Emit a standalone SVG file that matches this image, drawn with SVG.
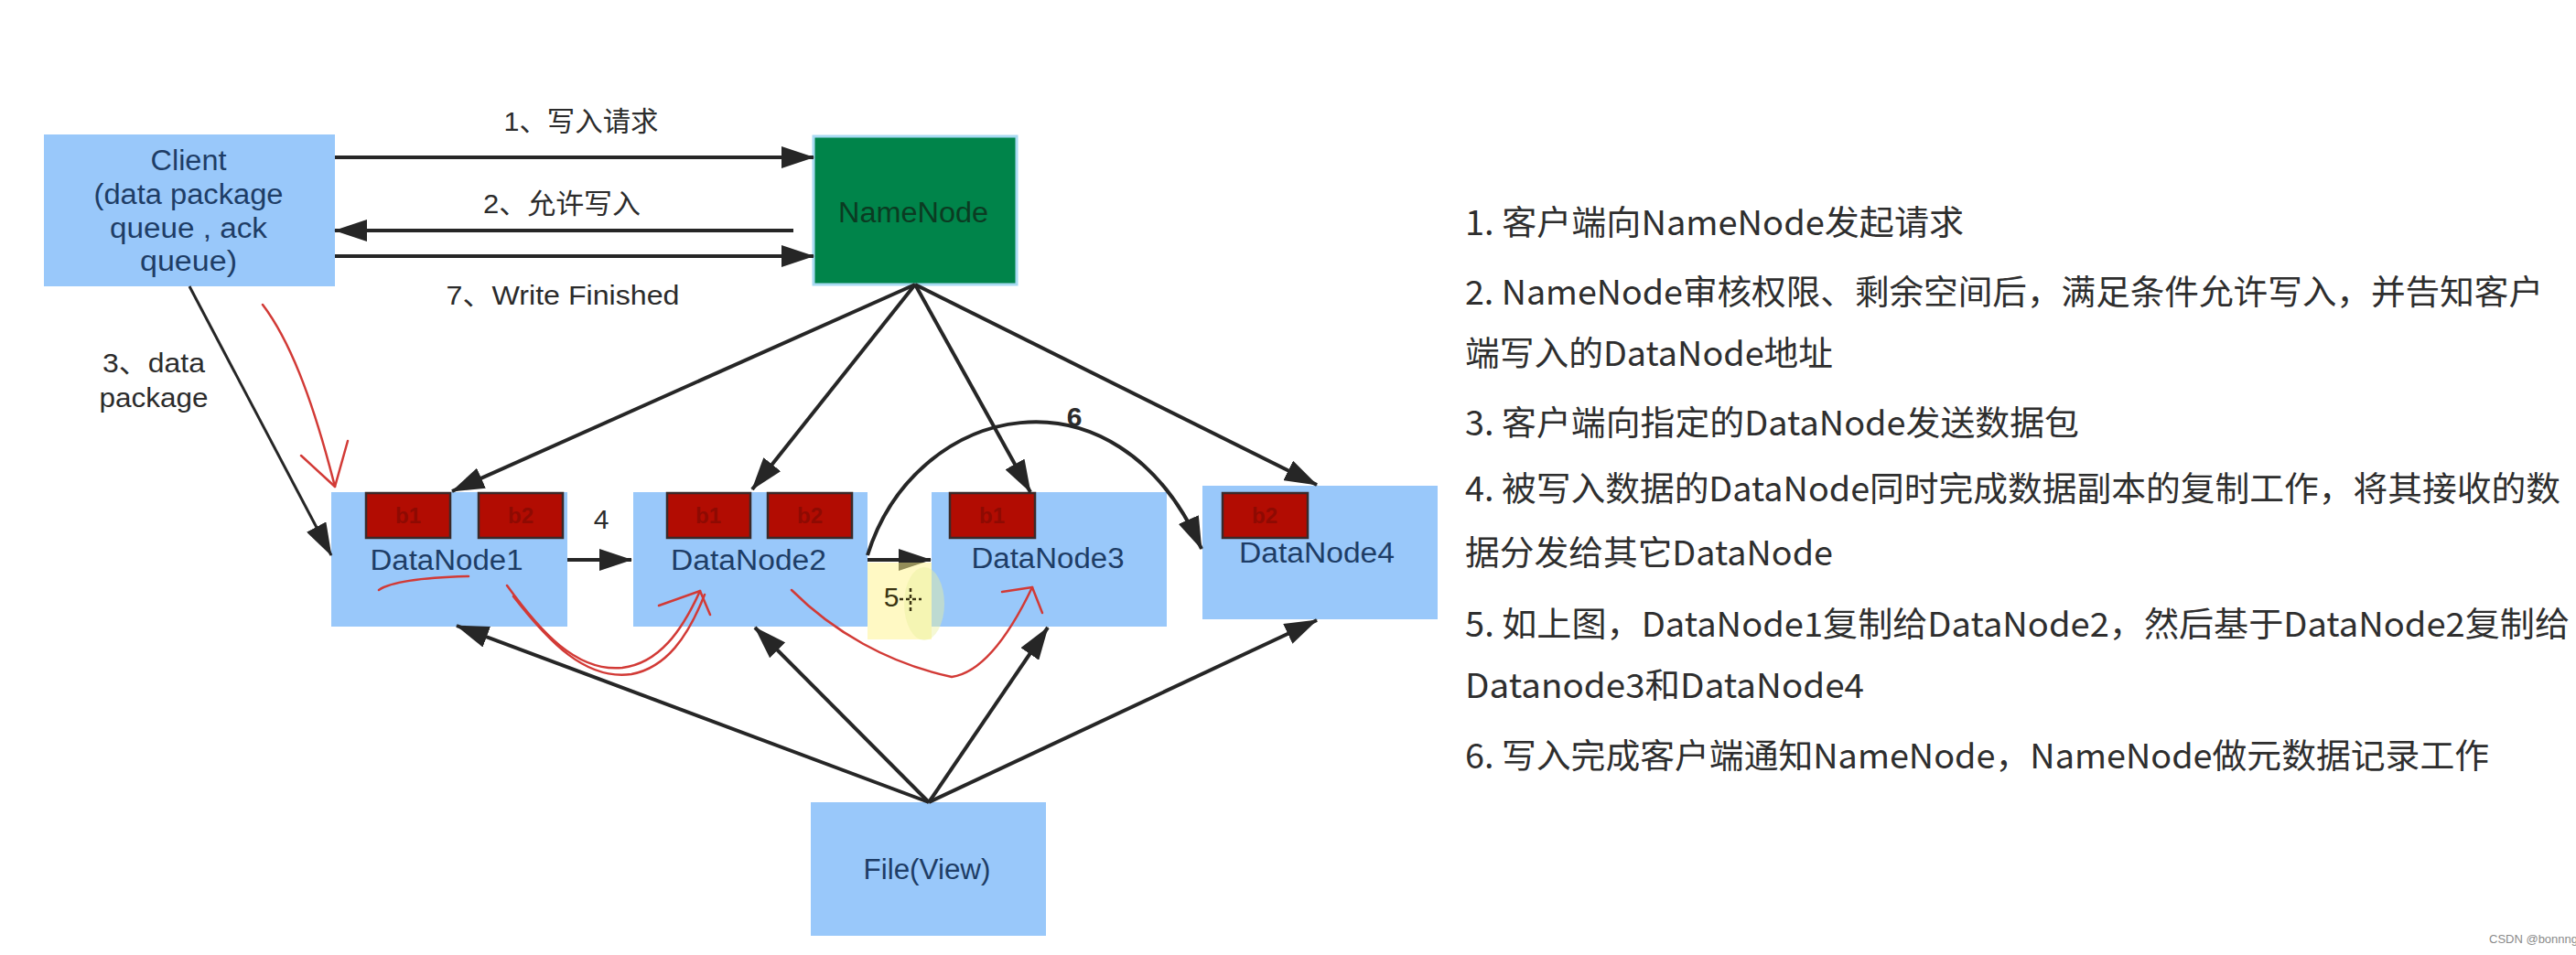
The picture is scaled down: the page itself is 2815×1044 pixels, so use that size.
<svg xmlns="http://www.w3.org/2000/svg" width="2815" height="1044" viewBox="0 0 2815 1044">
<defs>
<marker id="ah" markerUnits="userSpaceOnUse" viewBox="0 0 36 24" refX="35" refY="12" markerWidth="36" markerHeight="24" orient="auto">
<path d="M0,0 L36,12 L0,24 z" fill="#262626"/>
</marker>
<style>
.box{fill:#99c8fa}
.red{fill:#b20c02;stroke:#3a2a2a;stroke-width:2.5}
.lbl{font-family:"Liberation Sans","Noto Sans CJK SC",sans-serif;font-size:30px;fill:#2b2b2b}
.nt{font-family:"Liberation Sans","Noto Sans CJK SC",sans-serif;font-size:31px;fill:#1e3d66;text-anchor:middle}
.bt{font-family:"Liberation Sans",sans-serif;font-size:24px;fill:#8e0a02;text-anchor:middle;font-weight:bold}
.rt{font-family:"Noto Sans CJK SC","Noto Sans",sans-serif;font-size:37px;fill:#2e2e2e}
.ln{stroke:#262626;stroke-width:4;fill:none;marker-end:url(#ah)}
.pen{stroke:#d23a36;stroke-width:2.5;fill:none;stroke-linecap:round;stroke-linejoin:round}
</style>
</defs>
<rect width="2815" height="1044" fill="#ffffff"/>

<g id="client">
<rect class="box" x="48" y="147" width="318" height="166"/>
<text class="nt" x="206" y="186" textLength="83" lengthAdjust="spacingAndGlyphs">Client</text>
<text class="nt" x="206" y="223" textLength="207" lengthAdjust="spacingAndGlyphs">(data package</text>
<text class="nt" x="206" y="260" textLength="172" lengthAdjust="spacingAndGlyphs">queue , ack</text>
<text class="nt" x="206" y="296" textLength="106" lengthAdjust="spacingAndGlyphs">queue)</text>
</g>

<g id="namenode">
<rect x="889" y="149" width="222" height="162" fill="#00844a" stroke="#a8daf2" stroke-width="3"/>
<text class="nt" x="998" y="243" textLength="164" lengthAdjust="spacingAndGlyphs" style="fill:#0b3b22">NameNode</text>
</g>

<g id="datanode1">
<rect class="box" x="362" y="538" width="258" height="147"/>
<rect class="red" x="400" y="539" width="92" height="49"/>
<rect class="red" x="523" y="539" width="92" height="49"/>
<text class="bt" x="446" y="572">b1</text>
<text class="bt" x="569" y="572">b2</text>
<text class="nt" x="488" y="623" textLength="167" lengthAdjust="spacingAndGlyphs">DataNode1</text>
</g>

<g id="datanode2">
<rect class="box" x="692" y="538" width="256" height="147"/>
<rect class="red" x="729" y="539" width="91" height="49"/>
<rect class="red" x="839" y="539" width="92" height="49"/>
<text class="bt" x="774" y="572">b1</text>
<text class="bt" x="885" y="572">b2</text>
<text class="nt" x="818" y="623" textLength="170" lengthAdjust="spacingAndGlyphs">DataNode2</text>
</g>

<g id="datanode3">
<rect class="box" x="1018" y="538" width="257" height="147"/>
<rect class="red" x="1038" y="539" width="93" height="49"/>
<text class="bt" x="1084" y="572">b1</text>
<text class="nt" x="1145" y="621" textLength="167" lengthAdjust="spacingAndGlyphs">DataNode3</text>
</g>

<g id="datanode4">
<rect class="box" x="1314" y="531" width="257" height="146"/>
<rect class="red" x="1336" y="539" width="93" height="49"/>
<text class="bt" x="1382" y="572">b2</text>
<text class="nt" x="1439" y="615" textLength="170" lengthAdjust="spacingAndGlyphs">DataNode4</text>
</g>

<g id="fileview">
<rect class="box" x="886" y="877" width="257" height="146"/>
<text class="nt" x="1013" y="961" textLength="139" lengthAdjust="spacingAndGlyphs">File(View)</text>
</g>

<g id="connectors">
<line class="ln" x1="366" y1="172" x2="889" y2="172"/>
<line class="ln" x1="867" y1="252" x2="366" y2="252"/>
<line class="ln" x1="366" y1="280" x2="889" y2="280"/>
<line class="ln" x1="207" y1="313" x2="362" y2="607" style="stroke-width:3"/>
<line class="ln" x1="1000" y1="311" x2="494" y2="537"/>
<line class="ln" x1="1000" y1="311" x2="822" y2="535"/>
<line class="ln" x1="1000" y1="311" x2="1126" y2="538"/>
<line class="ln" x1="1000" y1="311" x2="1439" y2="530"/>
<line class="ln" x1="620" y1="612" x2="690" y2="612"/>
<line class="ln" x1="948" y1="612" x2="1017" y2="612"/>
<path class="ln" d="M948,607 C1000,440 1220,390 1313,600"/>
<line class="ln" x1="1015" y1="877" x2="499" y2="684"/>
<line class="ln" x1="1015" y1="877" x2="825" y2="686"/>
<line class="ln" x1="1015" y1="877" x2="1145" y2="686"/>
<line class="ln" x1="1015" y1="877" x2="1439" y2="678"/>
</g>

<g id="labels">
<text class="lbl" x="635" y="143" text-anchor="middle" textLength="169" lengthAdjust="spacingAndGlyphs">1、写入请求</text>
<text class="lbl" x="614" y="233" text-anchor="middle" textLength="172" lengthAdjust="spacingAndGlyphs">2、允许写入</text>
<text class="lbl" x="615" y="333" text-anchor="middle" textLength="255" lengthAdjust="spacingAndGlyphs">7、Write Finished</text>
<text class="lbl" x="168" y="407" text-anchor="middle" textLength="112" lengthAdjust="spacingAndGlyphs">3、data</text>
<text class="lbl" x="168" y="445" text-anchor="middle" textLength="119" lengthAdjust="spacingAndGlyphs">package</text>
<text class="lbl" x="657" y="578" text-anchor="middle">4</text>
<text class="lbl" x="1174" y="466" text-anchor="middle" font-weight="bold">6</text>
</g>

<g id="highlight">
<rect x="948" y="615" width="70" height="84" fill="#fff38a" opacity="0.5"/>
<ellipse cx="1010" cy="660" rx="22" ry="40" fill="#e8f0a0" opacity="0.45"/>
<text class="lbl" x="974" y="663" text-anchor="middle" style="fill:#3a3412">5</text>
<path d="M983,655 H1007 M995,643 V668" stroke="#3a3412" stroke-width="2.5" stroke-dasharray="4,3" fill="none"/>
</g>

<g id="pen">
<path class="pen" d="M287,333 C315,370 340,430 366,532"/>
<path class="pen" d="M329,498 L366,532 L380,482"/>
<path class="pen" d="M414,645 C430,634 475,631 512,630"/>
<path class="pen" d="M554,640 C590,690 630,735 680,730 C720,725 745,690 765,646"/>
<path class="pen" d="M561,652 C600,702 640,744 690,737 C728,730 752,696 770,650"/>
<path class="pen" d="M720,662 L765,646 L776,672"/>
<path class="pen" d="M865,645 C910,690 970,725 1040,740 C1075,735 1105,690 1128,642"/>
<path class="pen" d="M1095,647 L1128,642 L1139,670"/>
</g>

<g id="notes">
<text class="rt" x="1601" y="257" textLength="545" lengthAdjust="spacingAndGlyphs">1. 客户端向NameNode发起请求</text>
<text class="rt" x="1601" y="333" textLength="1178" lengthAdjust="spacingAndGlyphs">2. NameNode审核权限、剩余空间后，满足条件允许写入，并告知客户</text>
<text class="rt" x="1601" y="400" textLength="402" lengthAdjust="spacingAndGlyphs">端写入的DataNode地址</text>
<text class="rt" x="1601" y="476" textLength="671" lengthAdjust="spacingAndGlyphs">3. 客户端向指定的DataNode发送数据包</text>
<text class="rt" x="1601" y="548" textLength="1197" lengthAdjust="spacingAndGlyphs">4. 被写入数据的DataNode同时完成数据副本的复制工作，将其接收的数</text>
<text class="rt" x="1601" y="618" textLength="402" lengthAdjust="spacingAndGlyphs">据分发给其它DataNode</text>
<text class="rt" x="1601" y="696" textLength="1207" lengthAdjust="spacingAndGlyphs">5. 如上图，DataNode1复制给DataNode2，然后基于DataNode2复制给</text>
<text class="rt" x="1601" y="763" textLength="436" lengthAdjust="spacingAndGlyphs">Datanode3和DataNode4</text>
<text class="rt" x="1601" y="840" textLength="1119" lengthAdjust="spacingAndGlyphs">6. 写入完成客户端通知NameNode，NameNode做元数据记录工作</text>
</g>

<text x="2720" y="1031" font-family="Liberation Sans, sans-serif" font-size="13" fill="#8a8a8a">CSDN @bonnng</text>
</svg>
